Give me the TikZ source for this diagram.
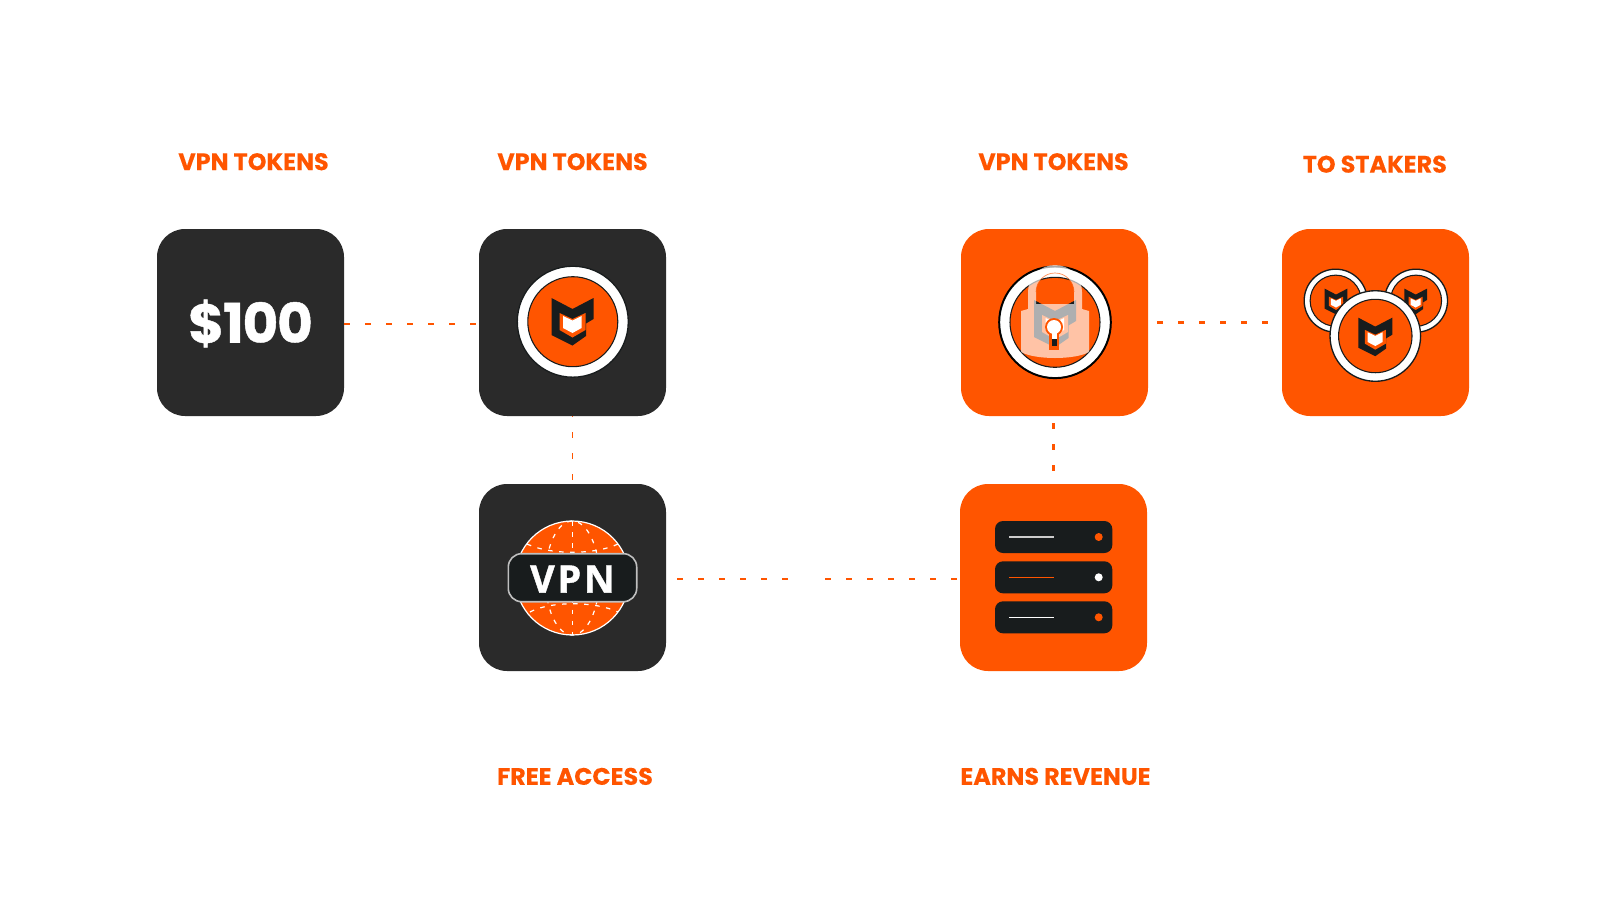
\documentclass[tikz,border=0pt]{standalone}
\usepackage{fontspec}
\setmainfont{Poppins}[BoldFeatures={FakeBold=0.25}]
\newfontfamily\vpnfont{Open Sans}[LetterSpace=7,BoldFeatures={FakeBold=1}]
\newfontfamily\sumfont{Poppins}[LetterSpace=-2,BoldFeatures={FakeBold=0.8}]
\definecolor{flow}{RGB}{255,85,0}
\definecolor{slate}{RGB}{42,42,42}
\definecolor{ink}{RGB}{24,28,29}
\tikzset{
  tile/.style={rounded corners=21pt,minimum width=140.25pt,minimum height=140.25pt,inner sep=0pt,fill=#1},
  caption/.style={text=flow,font=\fontsize{17.9pt}{20pt}\selectfont\bfseries,inner sep=0pt},
  flowline/.style={draw=flow,line width=1.6pt,dash pattern=on 4.5pt off 11.25pt},
  rack/.style={fill=ink,rounded corners=6pt},
  pics/logo/.style={code={
    \begin{scope}[yscale=-1]
    \fill[ink] (-21,-22) -- (0,-11) -- (21,-22) -- (21,-1) -- (13.5,3.5) -- (13.5,16) -- (0,25.5) -- (-21,15) -- cycle;
    \fill[flow] (-13,-7) -- (0,-1) -- (13,-7) -- (13,10) -- (0,17.5) -- (-13,10) -- cycle;
    \fill[white] (-9.5,-4) -- (0,0.5) -- (9,-4) -- (9,8) -- (0,13) -- (-9.5,8) -- cycle;
    \end{scope}
  }},
  pics/coin/.style={code={
    \draw[ink,line width=1pt,fill=white] (0,0) circle [radius=55.5];
    \draw[ink,line width=.8pt,fill=flow] (0,0) circle [radius=45];
  }},
}
\begin{document}
\begin{tikzpicture}[x=0.75pt,y=0.75pt,yscale=-1,xscale=1]
\useasboundingbox (0,0) rectangle (1600,900);

% tiles
\node [tile=slate] (cash) at (250.5,322.5) {};
\node [tile=slate] (wallet) at (572.5,322.5) {};
\node [tile=slate] (access) at (572.5,577.5) {};
\node [tile=flow] (locked) at (1054.5,322.5) {};
\node [tile=flow] (server) at (1053.5,577.5) {};
\node [tile=flow] (stakers) at (1375.5,322.5) {};

% captions
\node [caption] (capcash) at (253.5,161.7) {VPN TOKENS};
\node [caption] (capwallet) at (572.5,161.7) {VPN TOKENS};
\node [caption] (caplocked) at (1053.5,161.7) {VPN TOKENS};
\node [caption] (capstakers) at (1374.8,164.2) {TO STAKERS};
\node [caption] (capaccess) at (575,776.4) {FREE ACCESS};
\node [caption] (capserver) at (1055.5,776.4) {EARNS REVENUE};

% connectors
\coordinate (gapa) at (788,579);
\coordinate (gapb) at (825,579);
\draw [flowline,shorten >=2.25pt] ([yshift=0.9pt]cash.east) -- ([yshift=0.9pt]wallet.west);
\draw [flowline,line width=1.3pt,dash phase=3.75pt,shorten >=1.5pt] (wallet.south) -- (access.north);
\draw [flowline,shorten <=8.25pt] (access.east |- gapa) -- (gapa);
\draw [flowline,shorten >=2.25pt] (gapb) -- (server.west |- gapb);
\draw [flowline,shorten <=5.25pt,shorten >=9.75pt] (server.north |- locked.south) -- (server.north);
\draw [flowline,shorten <=6.75pt,shorten >=9.75pt] (locked.east) -- (stakers.west);

% $100
\node [text=white,font=\sumfont\fontsize{41pt}{44pt}\selectfont\bfseries,inner sep=0pt] (amount) at (250.5,323.5) {\$100};

% coin on dark tile
\pic at (572.8,321.7) {coin};
\pic at (572.5,320) {logo};

% vpn globe
\draw [white,line width=.9pt,fill=flow] (572.3,578) circle [radius=57];
\begin{scope}[white,line width=.9pt,dash pattern=on 3.4pt off 4.9pt]
\draw (572.3,521) -- (572.3,635);
\draw (572.3,578) ellipse [x radius=27,y radius=57];
\draw (527,544) .. controls (550,555) and (595,555) .. (618,544);
\draw (530,612) .. controls (550,601) and (595,601) .. (618,612);
\end{scope}
\draw [fill=ink,draw=white!75!black,line width=1.2pt,rounded corners=10pt] (508.3,553.7) rectangle (636.7,601.7);
\node [text=white,font=\vpnfont\fontsize{28.5pt}{30pt}\selectfont\bfseries,inner sep=0pt] (vpnword) at (572.5,579) {VPN};

% coin under the lock
\pic at (1055,322.3) {coin};
\draw [black,line width=1.2pt] (1055,322.3) circle [radius=56];
\pic at (1055,322) {logo};
\fill [white,opacity=.65,even odd rule] (1021,311) -- (1028,309) -- (1028,292) arc [start angle=180,end angle=360,radius=27] -- (1082,309) -- (1089,311) -- (1089,352) .. controls (1075,360) and (1035,360) .. (1021,352) -- cycle
  (1036,304) -- (1036,292) arc [start angle=180,end angle=360,radius=19] -- (1074,292) -- (1074,304) -- (1055,304) -- cycle;
\draw [flow,line width=.5pt,opacity=.7] (1036,292) arc [start angle=180,end angle=360,radius=19];
\fill [flow] (1054,327) circle [radius=9];
\fill [flow] (1049,330) rectangle (1059,350);
\fill [ink] (1051.5,339) rectangle (1056.5,346);
\fill [white] (1054,327) circle [radius=7];
\fill [white] (1051.5,330) rectangle (1056.5,339);

% servers
\foreach \ya/\linecol/\dotcol in {521/white!80!black/flow,561.3/flow/white,601.3/white/flow}{
  \fill [rack] (995,\ya) rectangle (1112.3,\ya+32);
  \draw [\linecol,line width=.8pt] (1009.3,\ya+16) -- (1054,\ya+16);
  \fill [\dotcol] (1098.7,\ya+16) circle [radius=4];
}

% stakers coins
\pic [scale=.568] at (1335.7,300.7) {coin};
\pic [scale=.54] at (1336,300.5) {logo};
\pic [scale=.568] at (1416,300.7) {coin};
\pic [scale=.54] at (1415.7,300.5) {logo};
\pic [scale=.816] at (1375.3,336) {coin};
\pic [scale=.81] at (1375.3,335.5) {logo};

\end{tikzpicture}
\end{document}
